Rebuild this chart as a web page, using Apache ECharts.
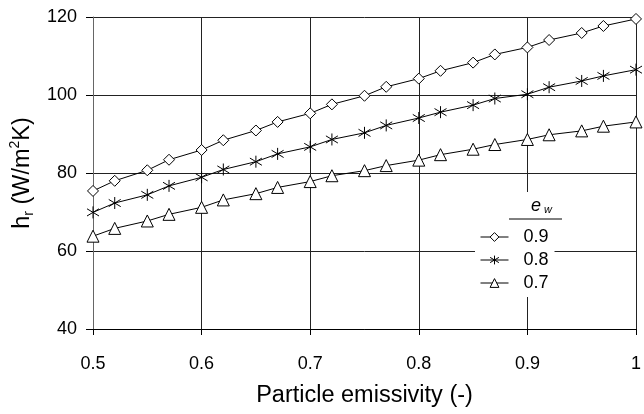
<!DOCTYPE html>
<html>
<head>
<meta charset="utf-8">
<script src="https://cdn.jsdelivr.net/npm/echarts@6/dist/echarts.min.js"></script>
<style>
  html, body { margin: 0; padding: 0; background: #fff; }
  #main { width: 644px; height: 414px; }
</style>
</head>
<body>
<div id="main"></div>
<script>
const emissivity = [0.5, 0.52, 0.55, 0.57, 0.6, 0.62, 0.65, 0.67, 0.7, 0.72, 0.75, 0.77, 0.8, 0.82, 0.85, 0.87, 0.9, 0.92, 0.95, 0.97, 1.0];
const hr09 = [75.4, 78.0, 80.7, 83.4, 85.9, 88.4, 90.9, 93.1, 95.3, 97.6, 99.8, 102.1, 104.2, 106.2, 108.3, 110.4, 112.2, 114.1, 115.9, 117.7, 119.5];
const hr08 = [69.9, 72.3, 74.4, 76.7, 78.9, 80.9, 82.9, 84.9, 86.7, 88.6, 90.3, 92.2, 94.1, 95.6, 97.4, 99.1, 100.2, 102.0, 103.6, 104.9, 106.5];
const hr07 = [63.8, 65.8, 67.7, 69.4, 71.2, 73.1, 74.7, 76.3, 77.8, 79.3, 80.6, 81.9, 83.3, 84.7, 86.1, 87.3, 88.6, 89.8, 90.8, 92.0, 93.1];
const seriesNames = ["0.9", "0.8", "0.7"];

const font = "Liberation Sans, Arial, sans-serif";
const star = "path://M0,-5L0,5M-4.3,-3L4.3,3M-4.3,3L4.3,-3";

function pairs(ys) {
  return emissivity.map((x, i) => [x, ys[i]]);
}

function line(name, ys, symbol, size) {
  return {
    name: name,
    type: "line",
    data: pairs(ys),
    symbol: symbol,
    symbolSize: size,
    showAllSymbol: true,
    clip: false,
    lineStyle: { color: "#000", width: 1 },
    itemStyle: { color: "#fff", borderColor: "#000", borderWidth: 1 },
    emphasis: { disabled: true },
    z: 5
  };
}

const chart = echarts.init(document.getElementById("main"), null, { renderer: "canvas" });
chart.setOption({
  animation: false,
  textStyle: { fontFamily: font, color: "#000" },
  grid: { left: 93, right: 4, top: 17, bottom: 85 },
  xAxis: {
    type: "value",
    min: 0.5,
    max: 1,
    interval: 0.1,
    name: "Particle emissivity (-)",
    nameLocation: "middle",
    nameGap: 55,
    nameTextStyle: { fontSize: 23.5, color: "#000", fontFamily: font },
    axisLine: { lineStyle: { color: "#000", width: 1 } },
    axisTick: { show: true, length: 6, lineStyle: { color: "#000" } },
    axisLabel: {
      fontSize: 18, color: "#000", margin: 26, fontFamily: font,
      formatter: v => (v === 1 ? "1" : v.toFixed(1))
    },
    splitLine: { show: true, lineStyle: { color: "#222", width: 1 } }
  },
  yAxis: {
    type: "value",
    min: 40,
    max: 120,
    interval: 20,
    name: "h{sub|r} (W/m{sup|2}K)",
    nameLocation: "middle",
    nameRotate: 90,
    nameGap: 55,
    nameTextStyle: {
      fontSize: 23.5, color: "#000", fontFamily: font, lineHeight: 28,
      rich: {
        sub: { fontSize: 14, verticalAlign: "bottom", lineHeight: 28, fontFamily: font, color: "#000" },
        sup: { fontSize: 14, verticalAlign: "top", lineHeight: 28, fontFamily: font, color: "#000" }
      }
    },
    axisLine: { show: true, lineStyle: { color: "#666", width: 1 } },
    axisTick: { show: true, length: 7, lineStyle: { color: "#000" } },
    axisLabel: { fontSize: 18, color: "#000", margin: 16, fontFamily: font },
    splitLine: { show: true, lineStyle: { color: "#222", width: 1 } }
  },
  legend: {
    orient: "vertical",
    left: 475,
    top: 192,
    padding: [36, 6, 5, 5],
    backgroundColor: "#fff",
    itemWidth: 28,
    itemHeight: 11,
    itemGap: 5,
    data: seriesNames,
    itemStyle: { borderWidth: 1 },
    lineStyle: { width: 1 },
    textStyle: { fontSize: 18, color: "#000", fontFamily: font, padding: [0, 0, 0, 10] },
    z: 6
  },
  graphic: [
    {
      type: "text",
      left: 531,
      top: 197,
      z: 20,
      style: {
        text: "{e|e}{w|w}",
        rich: {
          e: { fontSize: 18, fontStyle: "italic", fontFamily: font, fill: "#000" },
          w: { fontSize: 11, fontStyle: "italic", fontFamily: font, fill: "#000", padding: [8, 0, 0, 3] }
        }
      }
    },
    {
      type: "line",
      z: 20,
      shape: { x1: 509, y1: 219, x2: 562, y2: 219 },
      style: { stroke: "#000", lineWidth: 1 }
    }
  ],
  series: [
    line(seriesNames[0], hr09, "diamond", 11),
    line(seriesNames[1], hr08, star, 12),
    line(seriesNames[2], hr07, "triangle", 12)
  ]
});
window.onresize = function () {
  chart.resize();
};
</script>
</body>
</html>
